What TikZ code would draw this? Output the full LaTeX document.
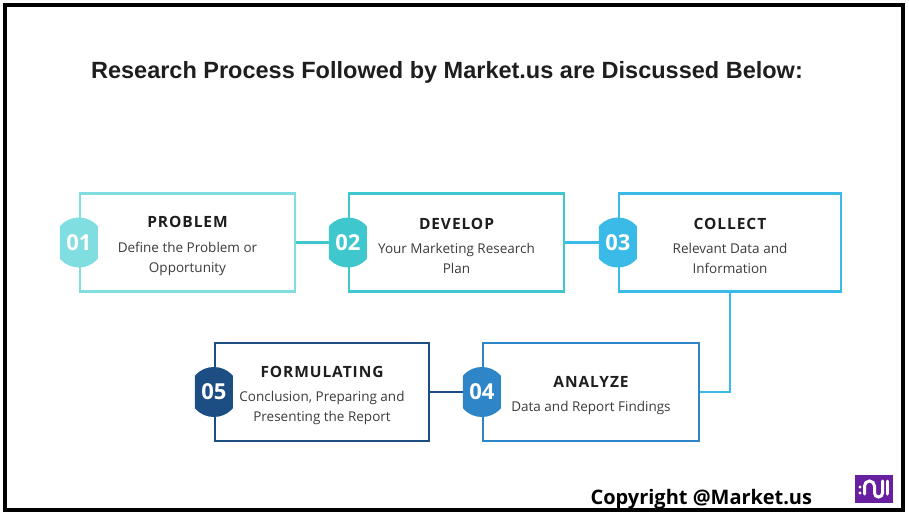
\documentclass[tikz,border=0pt]{standalone}
\usepackage{fontspec}
\setmainfont{Open Sans}
\newfontfamily\titlefont{Liberation Sans}
\usetikzlibrary{calc,positioning}
\definecolor{stepone}{RGB}{128, 222, 224}
\definecolor{steptwo}{RGB}{62, 200, 206}
\definecolor{stepthree}{RGB}{58, 186, 230}
\definecolor{stepfour}{RGB}{46, 134, 200}
\definecolor{stepfive}{RGB}{28, 78, 132}
\definecolor{headtext}{RGB}{30, 30, 30}
\definecolor{bodytext}{RGB}{60, 60, 60}
\definecolor{logopurple}{RGB}{104, 32, 160}
\tikzset{
  stagebox/.style = {draw = #1, line width = 2.2pt, fill = white, minimum height = 98pt, inner sep = 0pt},
  stagetext/.style = {align = center, inner sep = 0pt, text = bodytext, font = \fontsize{13.5}{20}\selectfont},
  badge/.style = {minimum width = 38pt, minimum height = 50pt, inner sep = 0pt,
    text = white, font = \fontsize{22}{22}\selectfont\bfseries,
    path picture = {\fill[#1] (path picture bounding box.center) circle (25pt);}},
  link/.style = {draw = #1, line width = 2.2pt}
}
\newcommand{\head}[1]{{\fontsize{15.5}{15.5}\selectfont\bfseries\addfontfeature{LetterSpace=6}\color{headtext}#1}\\[4.5pt]}
\begin{document}
\begin{tikzpicture}[x = 1pt, y = -1pt]
\useasboundingbox (0, 0) rectangle (909, 516);
\fill[white] (0, 0) rectangle (909, 516);
\draw[black, line width = 4pt] (5, 5) rectangle (903, 510);

\node[font = \titlefont\fontsize{23.5}{23.5}\selectfont\bfseries, text = headtext] (title) at (447, 72)
  {Research Process Followed by Market.us are Discussed Below:};

% first row
\node[stagebox = stepone, minimum width = 215pt] (box1) at (187.5, 242.5) {};
\node[stagebox = steptwo, minimum width = 215pt] (box2) at (456.5, 242.5) {};
\node[stagebox = stepthree, minimum width = 222pt] (box3) at (730, 242.5) {};
% second row
\node[stagebox = stepfour, minimum width = 216pt] (box4) at (591, 392) {};
\node[stagebox = stepfive, minimum width = 214pt] (box5) at (322, 392) {};

\node[stagetext] (text1) at ([yshift = -3.5pt]box1.center) {\head{PROBLEM} Define the Problem or\\ Opportunity};
\node[stagetext] (text2) at ([yshift = -3.5pt]box2.center) {\head{DEVELOP} Your Marketing Research\\ Plan};
\node[stagetext] (text3) at ([yshift = -3.5pt]box3.center) {\head{COLLECT} Relevant Data and\\ Information};
\node[stagetext] (text4) at ([yshift = -3.5pt]box4.center) {\head{ANALYZE} Data and Report Findings};
\node[stagetext] (text5) at ([yshift = -3.5pt]box5.center) {\head{FORMULATING} Conclusion, Preparing and\\ Presenting the Report};

\node[badge = stepone] (num1) at (box1.west) {01};
\node[badge = steptwo] (num2) at (box2.west) {02};
\node[badge = stepthree] (num3) at (box3.west) {03};
\node[badge = stepfour] (num4) at (box4.west) {04};
\node[badge = stepfive] (num5) at (box5.west) {05};

\draw[link = steptwo] (box1.east) -- (num2.west);
\draw[link = stepthree] (box2.east) -- (num3.west);
\draw[link = stepthree] (box3.south) |- (box4.east);
\draw[link = stepfive] (box5.east) -- (num4.west);

\node[font = \fontsize{20}{20}\selectfont\bfseries, anchor = base west] (copy) at (587, 504) {Copyright @Market.us};

% logo
\fill[logopurple] (855, 475) rectangle (893, 503);
\fill[white] (860, 487) circle (1.7) (860, 493) circle (1.7);
\draw[white, line width = 3pt, line cap = round] (864.5, 494) -- (864.5, 486) arc[start angle = 180, end angle = 0, x radius = 5, y radius = -5]
  -- (874.5, 493) arc[start angle = 180, end angle = 360, x radius = 4, y radius = -4] -- (882.5, 481);
\draw[white, line width = 3pt, line cap = round] (887.5, 481) -- (887.5, 494);
\end{tikzpicture}
\end{document}
